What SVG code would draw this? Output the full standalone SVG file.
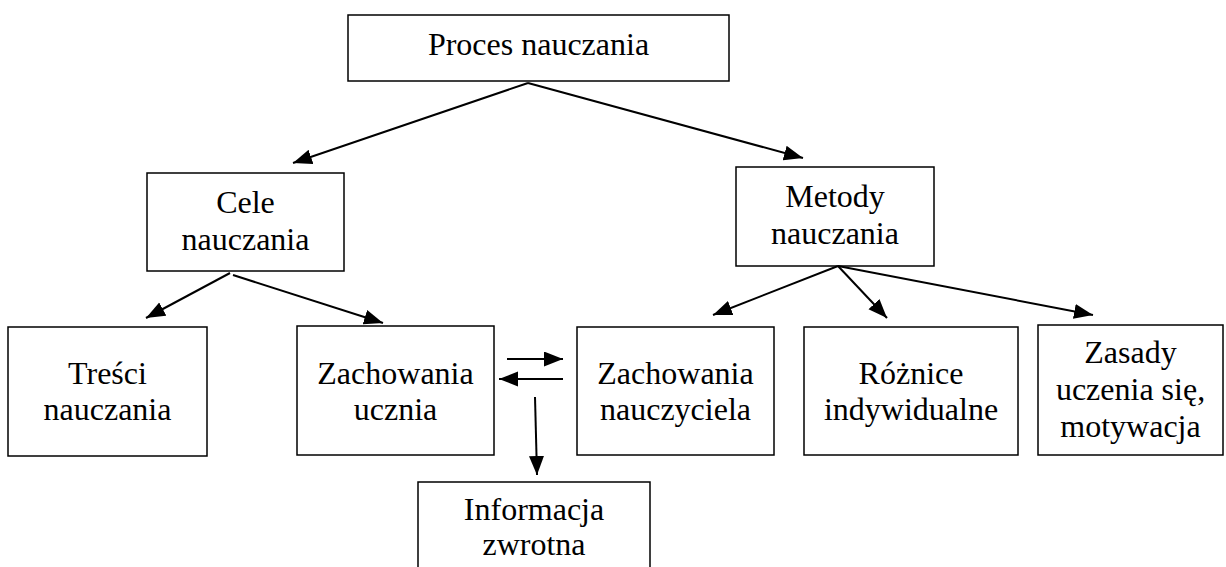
<svg xmlns="http://www.w3.org/2000/svg" width="1226" height="567" viewBox="0 0 1226 567">
<style>
.box{fill:#fff;stroke:#000;stroke-width:1.5}
.t{font-family:"Liberation Serif","Times New Roman",serif;font-size:32px;fill:#000;text-anchor:middle}
.c{stroke:#000;stroke-width:2;fill:none;marker-end:url(#ah)}
</style>
<defs>
<marker id="ah" markerUnits="userSpaceOnUse" markerWidth="20" markerHeight="16" refX="19" refY="7.5" orient="auto">
<path d="M0,0 L19,7.5 L0,15 z" fill="#000"/>
</marker>
</defs>
<rect width="1226" height="567" fill="#fff"/>
<g id="n-proces"><rect class="box" x="348" y="15" width="381" height="66"/><text class="t" x="538.5" y="55">Proces nauczania</text></g>
<g id="n-cele"><rect class="box" x="147" y="173" width="197" height="98"/><text class="t" x="245.5" y="213">Cele</text><text class="t" x="245.5" y="250">nauczania</text></g>
<g id="n-metody"><rect class="box" x="736" y="167" width="198" height="99"/><text class="t" x="835" y="207">Metody</text><text class="t" x="835" y="244">nauczania</text></g>
<g id="n-tresci"><rect class="box" x="8" y="327" width="199" height="129"/><text class="t" x="107.5" y="384">Treści</text><text class="t" x="107.5" y="420">nauczania</text></g>
<g id="n-zach-ucznia"><rect class="box" x="297" y="326" width="197" height="129"/><text class="t" x="395.5" y="384">Zachowania</text><text class="t" x="395.5" y="420">ucznia</text></g>
<g id="n-zach-naucz"><rect class="box" x="577" y="327" width="197" height="128"/><text class="t" x="675.5" y="384">Zachowania</text><text class="t" x="675.5" y="420">nauczyciela</text></g>
<g id="n-roznice"><rect class="box" x="804" y="327" width="214" height="128"/><text class="t" x="911" y="384">Różnice</text><text class="t" x="911" y="420">indywidualne</text></g>
<g id="n-zasady"><rect class="box" x="1038" y="325" width="185" height="130"/><text class="t" x="1130.5" y="363">Zasady</text><text class="t" x="1130.5" y="400">uczenia się,</text><text class="t" x="1130.5" y="437">motywacja</text></g>
<g id="n-info"><rect class="box" x="418" y="482" width="232" height="100"/><text class="t" x="534" y="520">Informacja</text><text class="t" x="534" y="555">zwrotna</text></g>
<g id="connectors">
<line class="c" x1="528" y1="83" x2="293" y2="163"/>
<line class="c" x1="528" y1="83" x2="803" y2="158"/>
<line class="c" x1="230" y1="273" x2="146" y2="318"/>
<line class="c" x1="233" y1="275" x2="383" y2="323"/>
<line class="c" x1="838" y1="266" x2="713" y2="315"/>
<line class="c" x1="838" y1="266" x2="887" y2="318"/>
<line class="c" x1="838" y1="266" x2="1093" y2="315"/>
<line class="c" x1="507" y1="359" x2="563" y2="359"/>
<line class="c" x1="563" y1="379" x2="499" y2="379"/>
<line class="c" x1="535" y1="397" x2="537" y2="475"/>
</g>
</svg>
